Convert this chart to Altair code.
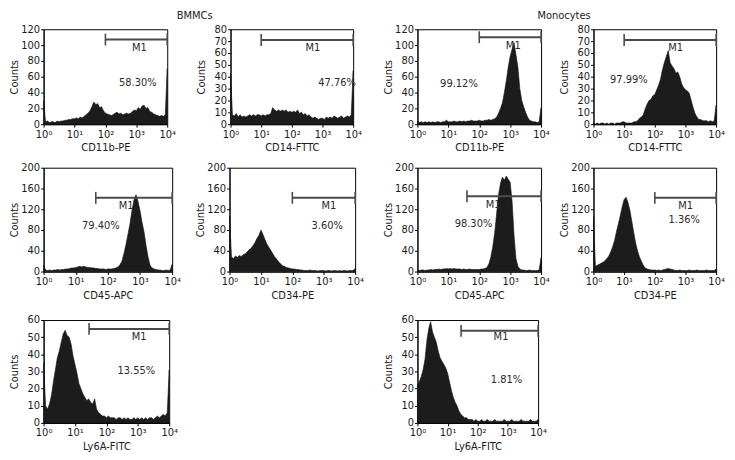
import altair as alt
import pandas as pd

FONT = "DejaVu Sans"
INK = "#1a1a1a"

# fluorescence channel positions (log axis, 16 per decade)
channel = [1, 1.155, 1.334, 1.54, 1.778, 2.054, 2.371, 2.738, 3.162, 3.652, 4.217, 4.87, 5.623, 6.494, 7.499, 8.66,
           10, 11.55, 13.34, 15.4, 17.78, 20.54, 23.71, 27.38, 31.62, 36.52, 42.17, 48.7, 56.23, 64.94, 74.99, 86.6,
           100, 115.5, 133.4, 154, 177.8, 205.4, 237.1, 273.8, 316.2, 365.2, 421.7, 487, 562.3, 649.4, 749.9, 866,
           1000, 1155, 1334, 1540, 1778, 2054, 2371, 2738, 3162, 3652, 4217, 4870, 5623, 6494, 7499, 8660, 10000]

bm_cd11b = [30, 3, 4, 2, 3, 3, 2, 4, 3, 4, 4, 5, 5, 6, 6, 7,
            7, 8, 7, 9, 8, 10, 12, 14, 17, 22, 28, 25, 26, 21, 22, 17,
            14, 13, 12, 11, 12, 14, 15, 13, 14, 12, 13, 14, 13, 14, 16, 18,
            17, 21, 19, 23, 24, 20, 21, 16, 15, 13, 12, 11, 10, 11, 10, 12, 70]
bm_cd14 = [43, 8, 7, 9, 6, 8, 6, 7, 6, 7, 8, 7, 8, 7, 8, 8,
           7, 8, 7, 8, 8, 9, 14, 12, 11, 12, 11, 12, 11, 12, 10, 11,
           10, 11, 10, 12, 9, 10, 8, 9, 7, 8, 6, 5, 6, 5, 4, 5,
           5, 4, 6, 5, 6, 5, 7, 6, 5, 6, 7, 5, 6, 7, 6, 8, 45]
mo_cd11b = [4, 2, 3, 2, 3, 2, 3, 2, 3, 2, 3, 3, 2, 3, 3, 5,
            3, 3, 3, 4, 3, 3, 4, 3, 4, 3, 4, 4, 5, 4, 4, 4,
            5, 4, 4, 5, 5, 6, 5, 6, 7, 9, 14, 20, 27, 40, 55, 72,
            86, 95, 103, 88, 72, 45, 30, 22, 15, 9, 5, 4, 3, 3, 2, 3, 21]
mo_cd14 = [1, 0, 1, 0, 1, 1, 0, 1, 0, 1, 1, 0, 1, 1, 1, 2,
           2, 1, 1, 1, 1, 2, 2, 3, 5, 6, 8, 13, 17, 20, 21, 24,
           25, 29, 33, 38, 46, 52, 57, 62, 52, 49, 47, 43, 44, 40, 34, 31,
           29, 28, 26, 20, 14, 9, 6, 4, 4, 3, 3, 3, 2, 3, 2, 3, 16]
bm_cd45 = [12, 3, 2, 3, 2, 3, 3, 4, 3, 4, 4, 5, 5, 6, 7, 7,
           8, 9, 10, 9, 10, 9, 8, 8, 7, 7, 6, 6, 5, 5, 5, 4,
           5, 5, 5, 6, 7, 9, 13, 20, 35, 52, 72, 92, 118, 138, 148, 135,
           117, 95, 76, 50, 28, 12, 7, 5, 4, 3, 3, 2, 2, 3, 2, 3, 14]
bm_cd34 = [107, 28, 25, 30, 27, 31, 29, 33, 34, 38, 42, 45, 50, 56, 64, 70,
           80, 72, 62, 53, 47, 41, 35, 28, 24, 19, 15, 11, 10, 8, 7, 6,
           5, 5, 4, 4, 3, 3, 2, 2, 2, 3, 2, 2, 2, 1, 2, 2,
           2, 1, 2, 2, 1, 2, 2, 1, 2, 1, 2, 2, 1, 2, 2, 2, 6]
mo_cd45 = [3, 2, 3, 3, 2, 3, 3, 4, 3, 4, 4, 5, 4, 5, 5, 6,
           5, 6, 5, 6, 5, 5, 5, 4, 5, 4, 4, 5, 4, 4, 4, 4,
           4, 5, 5, 6, 8, 15, 28, 48, 75, 112, 148, 170, 182, 176, 184, 178,
           172, 135, 70, 25, 10, 5, 3, 3, 2, 2, 3, 2, 2, 2, 2, 3, 27]
mo_cd34 = [106, 10, 12, 14, 16, 18, 21, 25, 30, 38, 48, 60, 77, 92, 108, 125,
           139, 143, 133, 118, 97, 75, 55, 40, 28, 20, 12, 7, 5, 4, 3, 3,
           3, 2, 3, 2, 3, 4, 5, 6, 5, 4, 3, 2, 2, 3, 2, 2,
           2, 2, 3, 2, 2, 2, 3, 2, 2, 2, 2, 3, 2, 2, 2, 2, 5]
bm_ly6a = [35, 10, 8, 11, 16, 24, 31, 38, 42, 47, 52, 54, 51, 50, 46, 39,
           34, 29, 23, 20, 17, 15, 13, 14, 12, 11, 14, 8, 6, 5, 4, 4,
           3, 4, 3, 3, 3, 2, 3, 3, 2, 3, 2, 3, 2, 2, 3, 2,
           3, 2, 3, 2, 3, 2, 3, 3, 2, 3, 4, 3, 4, 5, 4, 6, 31]
mo_ly6a = [22, 24, 27, 31, 37, 48, 55, 59, 53, 50, 47, 42, 38, 36, 34, 32,
           29, 24, 19, 15, 12, 10, 7, 5, 4, 3, 3, 2, 2, 2, 1, 2,
           1, 1, 2, 1, 1, 2, 1, 1, 1, 2, 1, 1, 1, 1, 2, 1,
           1, 1, 2, 1, 1, 1, 1, 2, 1, 1, 1, 1, 2, 1, 1, 1, 2]

x_ticks = [1, 10, 100, 1000, 10000]
x_tick_labels = ["10⁰", "10¹", "10²", "10³", "10⁴"]
y_ticks_120 = [0, 20, 40, 60, 80, 100, 120]
y_ticks_80 = [0, 10, 20, 30, 40, 50, 60, 70, 80]
y_ticks_200 = [0, 40, 80, 120, 160, 200]
y_ticks_60 = [0, 10, 20, 30, 40, 50, 60]

group_titles = ["BMMCs", "Monocytes"]
marker_label = "M1"

# per panel: counts, y ticks, x title, gate start, gate level, M1 label pos, percent text + pos
panels = {
    "p1": dict(counts=bm_cd11b, yt=y_ticks_120, xt="CD11b-PE", g0=100, gy=107, m=(1260, 96), pct="58.30%", p=(1120, 52)),
    "p2": dict(counts=bm_cd14, yt=y_ticks_80, xt="CD14-FTTC", g0=10, gy=71, m=(490, 64), pct="47.76%", p=(3000, 35)),
    "p3": dict(counts=mo_cd11b, yt=y_ticks_120, xt="CD11b-PE", g0=100, gy=110, m=(1260, 99), pct="99.12%", p=(22, 51)),
    "p4": dict(counts=mo_cd14, yt=y_ticks_80, xt="CD14-FTTC", g0=10, gy=71, m=(480, 64.5), pct="97.99%", p=(14.3, 37.4)),
    "p5": dict(counts=bm_cd45, yt=y_ticks_200, xt="CD45-APC", g0=42, gy=142, m=(372, 127), pct="79.40%", p=(60, 87)),
    "p6": dict(counts=bm_cd34, yt=y_ticks_200, xt="CD34-PE", g0=100, gy=142, m=(1450, 127), pct="3.60%", p=(1290, 88)),
    "p7": dict(counts=mo_cd45, yt=y_ticks_200, xt="CD45-APC", g0=40, gy=145, m=(282, 129), pct="98.30%", p=(65, 91)),
    "p8": dict(counts=mo_cd34, yt=y_ticks_200, xt="CD34-PE", g0=100, gy=142, m=(1020, 126), pct="1.36%", p=(910, 100)),
    "p9": dict(counts=bm_ly6a, yt=y_ticks_60, xt="Ly6A-FITC", g0=28, gy=54.8, m=(1100, 50.3), pct="13.55%", p=(900, 30)),
    "p10": dict(counts=mo_ly6a, yt=y_ticks_60, xt="Ly6A-FITC", g0=28, gy=53.7, m=(590, 49.8), pct="1.81%", p=(900, 25.2)),
}

label_expr = " : ".join(f"datum.value == {v} ? '{l}'" for v, l in zip(x_ticks, x_tick_labels)) + " : ''"


def panel(key, w, h):
    p = panels[key]
    ymax = p["yt"][-1]
    xenc = alt.X("x:Q",
                 scale=alt.Scale(type="log", domain=[1, 10000], nice=False),
                 axis=alt.Axis(values=x_ticks, labelExpr=label_expr, title=p["xt"],
                               labelFlush=False, tickSize=3, labelPadding=2, titlePadding=4,
                               grid=False, labelOverlap=False))
    yenc = alt.Y("y:Q",
                 scale=alt.Scale(domain=[0, ymax], nice=False, zero=True),
                 axis=alt.Axis(values=p["yt"], title="Counts", tickSize=3, labelPadding=1,
                               titlePadding=3, minExtent=21, maxExtent=21, grid=False,
                               labelOverlap=False))
    hist = pd.DataFrame({"x": channel, "y": p["counts"]})
    area = alt.Chart(hist).mark_area(color="#1c1c1c", stroke="#111111", strokeWidth=0.6,
                                     interpolate="linear").encode(x=xenc, y=yenc)
    gate = pd.DataFrame({"x": [p["g0"]], "x2": [10000], "y": [p["gy"]]})
    gate_line = alt.Chart(gate).mark_rule(color="#4a4a4a", strokeWidth=2).encode(
        x=xenc, x2=alt.X2("x2:Q"), y=yenc)
    ends = pd.DataFrame({"x": [p["g0"], 10000], "y": [p["gy"], p["gy"]], "y2": [p["gy"], p["gy"]]})
    gate_ends = alt.Chart(ends).mark_rule(color="#4a4a4a", strokeWidth=1.6, yOffset=-6, y2Offset=6).encode(
        x=xenc, y=yenc, y2=alt.Y2("y2:Q"))
    txt = pd.DataFrame({"x": [p["m"][0], p["p"][0]], "y": [p["m"][1], p["p"][1]],
                        "t": [marker_label, p["pct"]]})
    texts = alt.Chart(txt).mark_text(font=FONT, fontSize=10, color="#2a2a2a",
                                     align="center", baseline="middle").encode(
        x=xenc, y=yenc, text="t:N")
    return alt.layer(area, gate_line, gate_ends, texts).properties(width=w, height=h)


H1, H2, H3 = 96, 105, 104

bm_group = alt.vconcat(
    alt.vconcat(
        alt.hconcat(panel("p1", 125, H1), panel("p2", 124, H1), spacing=20),
        alt.hconcat(panel("p5", 130, H2), panel("p6", 127, H2), spacing=14),
        spacing=8),
    panel("p9", 127, H3),
    spacing=13,
    title=alt.TitleParams(group_titles[0], anchor="middle", offset=2, dx=8, dy=-1),
)
mo_group = alt.vconcat(
    alt.vconcat(
        alt.hconcat(panel("p3", 125, H1), panel("p4", 124, H1), spacing=9),
        alt.hconcat(panel("p7", 125, H2), panel("p8", 124, H2), spacing=9),
        spacing=8),
    panel("p10", 122, H3),
    spacing=13,
    title=alt.TitleParams(group_titles[1], anchor="middle", offset=2, dx=10, dy=-1),
)

chart = alt.hconcat(bm_group, mo_group, spacing=19).properties(
    padding={"left": 1, "top": 0, "right": 2, "bottom": 2}
).configure_view(
    stroke="#000000", strokeWidth=1
).configure_axis(
    labelFont=FONT, titleFont=FONT, labelFontSize=10, titleFontSize=10,
    titleFontWeight="normal", labelColor=INK, titleColor=INK,
    domainColor="#000000", tickColor="#000000", grid=False
).configure_title(
    font=FONT, fontSize=10, fontWeight="normal", color="#222222"
)

chart.save("out.html", embed_options={"renderer": "svg", "actions": False})
